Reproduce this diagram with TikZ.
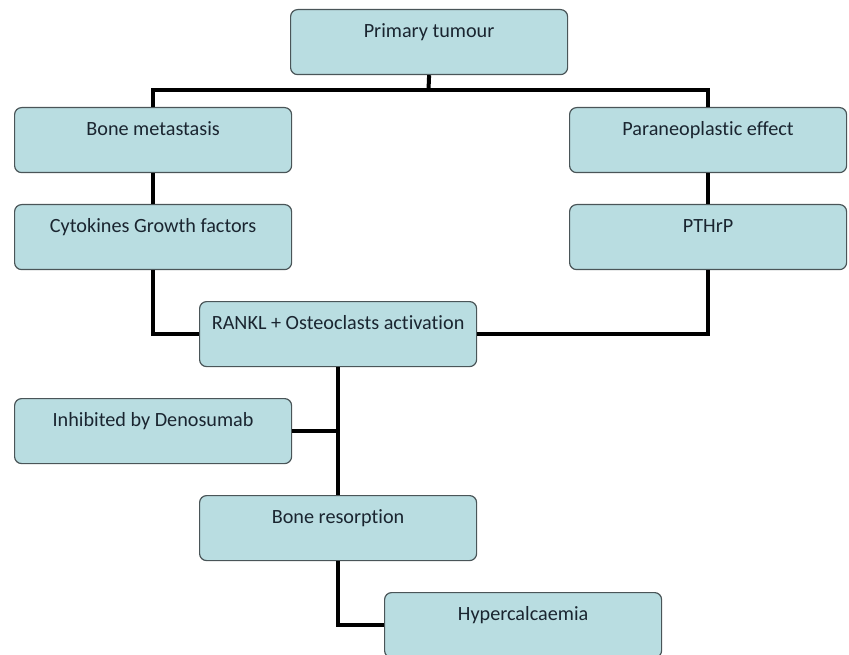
\documentclass[tikz,border=0pt]{standalone}
\usepackage{fontspec}
\setmainfont[Ligatures={NoCommon}]{Carlito}
\definecolor{boxfill}{HTML}{B9DDE1}
\definecolor{boxline}{HTML}{4A5558}
\definecolor{txt}{HTML}{1A2530}
\begin{document}
\begin{tikzpicture}[x=1pt,y=-1pt,
  box/.style={draw=boxline,line width=1.2pt,fill=boxfill,rounded corners=7pt,
    anchor=north west,minimum width=277pt,inner xsep=0pt,inner ysep=15pt,
    text height=13pt,text depth=22pt,text=txt,font=\fontsize{20.2}{22}\selectfont},
  conn/.style={draw=black,line width=4pt}]
\useasboundingbox (0,0) rectangle (849,655);
\node[box] (pt) at (290,9) {Primary tumour};
\node[box] (bm) at (14,107) {Bone metastasis};
\node[box] (pe) at (569,107) {Paraneoplastic effect};
\node[box] (cy) at (14,204) {Cytokines Growth factors};
\node[box] (pth) at (569,204) {PTHrP};
\node[box] (rk) at (199,301) {RANKL + Osteoclasts activation};
\node[box] (inh) at (14,398) {Inhibited by Denosumab};
\node[box] (br) at (199,495) {Bone resorption};
\node[box] (hy) at (384,592) {Hypercalcaemia};
\coordinate (j1) at (428.5,90);
\draw[conn] (pt.south) -- (j1);
\draw[conn] (bm.north) |- (j1) -| (pe.north);
\draw[conn] (bm.south) -- (cy.north);
\draw[conn] (pe.south) -- (pth.north);
\draw[conn] (cy.south) |- (rk.west);
\draw[conn] (pth.south) |- (rk.east);
\draw[conn] (rk.south) -- (br.north);
\draw[conn] (inh.east) -- (rk.south |- inh.east);
\draw[conn] (br.south) |- (hy.west);
\end{tikzpicture}
\end{document}
